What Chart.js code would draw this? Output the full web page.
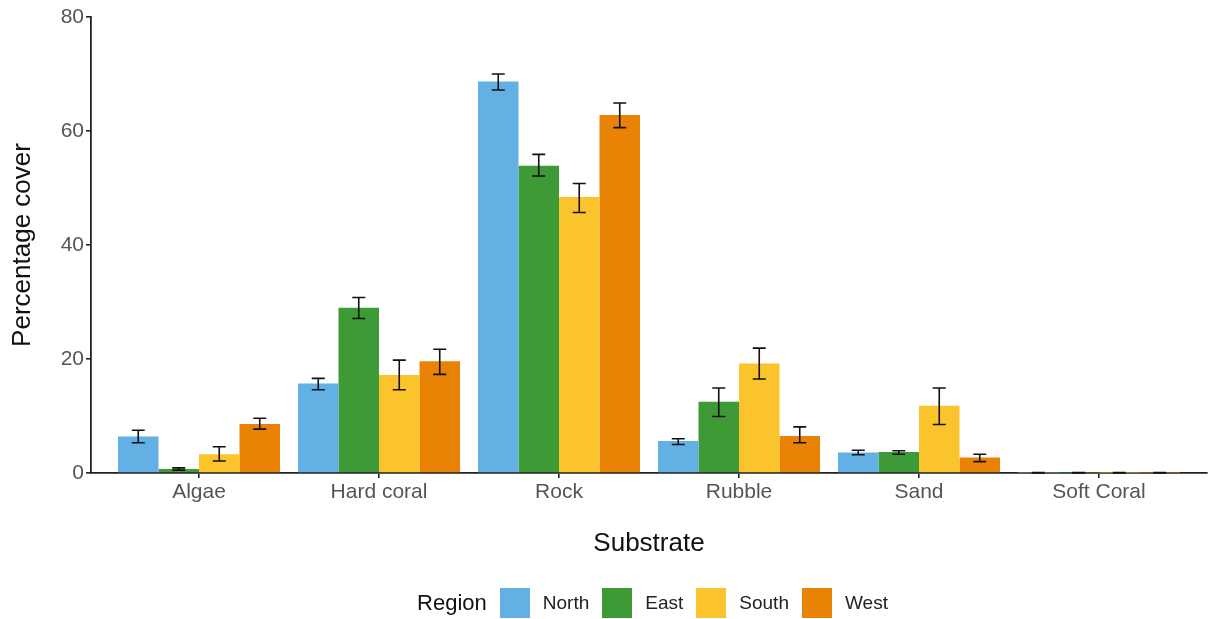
<!DOCTYPE html>
<html>
<head>
<meta charset="utf-8">
<script src="https://cdn.jsdelivr.net/npm/chart.js@4.4.1/dist/chart.umd.min.js"></script>
<style>
  html, body { margin: 0; padding: 0; background: #fff; }
  #wrap { position: relative; width: 1208px; height: 619px; }
  #legend {
    position: absolute; left: 101px; width: 1116px; top: 588px; height: 30px;
    display: flex; justify-content: center; align-items: center;
    font-family: "Liberation Sans", Arial, sans-serif; color: #222;
  }
  #legend .title { font-size: 22px; margin-right: 13px; color: #111; }
  #legend .box { width: 30px; height: 30px; margin-right: 13px; }
  #legend .lab { font-size: 19px; margin-right: 13px; }
</style>
</head>
<body>
<div id="wrap">
  <canvas id="chart" width="1208" height="619"></canvas>
  <div id="legend"></div>
</div>
<script>
const substrates = ["Algae", "Hard coral", "Rock", "Rubble", "Sand", "Soft Coral"];
const regions = ["North", "East", "South", "West"];
const colors = ["#62b0e4", "#3d9a36", "#fbc42d", "#e98305"];

// mean percentage cover
const north = [6.4, 15.7, 68.7, 5.6, 3.6, 0.05];
const east  = [0.7, 29.0, 53.9, 12.5, 3.7, 0.05];
const south = [3.3, 17.2, 48.4, 19.2, 11.8, 0.05];
const west  = [8.6, 19.6, 62.8, 6.5, 2.7, 0.05];

// error bar limits
const northLow  = [5.3, 14.6, 67.2, 5.0, 3.2, 0.0];
const northHigh = [7.5, 16.6, 70.0, 6.0, 4.0, 0.1];
const eastLow   = [0.5, 27.1, 52.1, 9.9, 3.3, 0.0];
const eastHigh  = [0.9, 30.8, 55.9, 14.9, 3.9, 0.1];
const southLow  = [2.1, 14.6, 45.7, 16.5, 8.5, 0.0];
const southHigh = [4.6, 19.8, 50.8, 21.9, 14.9, 0.1];
const westLow   = [7.7, 17.3, 60.6, 5.3, 2.0, 0.0];
const westHigh  = [9.6, 21.7, 64.9, 8.1, 3.3, 0.1];

const yTicks = [0, 20, 40, 60, 80];

const means = [north, east, south, west];
const lows = [northLow, eastLow, southLow, westLow];
const highs = [northHigh, eastHigh, southHigh, westHigh];

const font = "'Liberation Sans', Arial, sans-serif";

const errorBars = {
  id: "errorBars",
  afterDatasetsDraw(chart) {
    const ctx = chart.ctx;
    const y = chart.scales.y;
    ctx.save();
    ctx.strokeStyle = "#111";
    ctx.lineWidth = 1.6;
    chart.data.datasets.forEach((ds, d) => {
      const meta = chart.getDatasetMeta(d);
      meta.data.forEach((bar, i) => {
        const x = bar.x;
        const top = y.getPixelForValue(highs[d][i]);
        const bot = y.getPixelForValue(lows[d][i]);
        const cap = 6.5;
        ctx.beginPath();
        ctx.moveTo(x, top); ctx.lineTo(x, bot);
        ctx.moveTo(x - cap, top); ctx.lineTo(x + cap, top);
        ctx.moveTo(x - cap, bot); ctx.lineTo(x + cap, bot);
        ctx.stroke();
      });
    });
    ctx.restore();
  }
};

new Chart(document.getElementById("chart"), {
  type: "bar",
  data: {
    datasets: regions.map((r, d) => ({
      label: r,
      data: substrates.map((s, i) => ({ x: i + 1, y: means[d][i] })),
      backgroundColor: colors[d],
      borderWidth: 0,
      categoryPercentage: 0.9,
      barPercentage: 1
    }))
  },
  options: {
    responsive: false,
    animation: false,
    layout: { padding: { left: 0, right: 1, top: 17, bottom: 56 } },
    plugins: {
      legend: { display: false },
      tooltip: { enabled: false }
    },
    scales: {
      x: {
        type: "linear",
        offset: false,
        min: 0.4,
        max: 6.6,
        afterBuildTicks: axis => { axis.ticks = substrates.map((s, i) => ({ value: i + 1 })); },
        afterFit: axis => { axis.height = 90; },
        ticks: {
          callback: v => substrates[v - 1],
          font: { family: font, size: 21 },
          color: "#555",
          padding: 2,
          maxRotation: 0,
          autoSkip: false
        },
        grid: { offset: false, drawOnChartArea: false, drawTicks: true, tickLength: 5, color: "#222", lineWidth: 1.6 },
        border: { display: true, color: "#222", width: 1.8 },
        title: { display: true, text: "Substrate", font: { family: font, size: 26 }, color: "#111", padding: { top: 4, bottom: 4 } }
      },
      y: {
        min: 0,
        max: 80,
        afterBuildTicks: axis => { axis.ticks = yTicks.map(v => ({ value: v })); },
        afterFit: axis => { axis.width = 91; },
        ticks: {
          font: { family: font, size: 21 },
          color: "#555",
          padding: 2
        },
        grid: { drawOnChartArea: false, drawTicks: true, tickLength: 5, color: "#222", lineWidth: 1.6 },
        border: { display: true, color: "#222", width: 1.8 },
        title: { display: true, text: "Percentage cover", font: { family: font, size: 26 }, color: "#111", padding: { top: 7, bottom: 4 } }
      }
    }
  },
  plugins: [errorBars]
});

const legend = document.getElementById("legend");
legend.innerHTML = '<span class="title">Region</span>' +
  regions.map((r, d) => '<span class="box" style="background:' + colors[d] + '"></span><span class="lab">' + r + '</span>').join("");
</script>
</body>
</html>
